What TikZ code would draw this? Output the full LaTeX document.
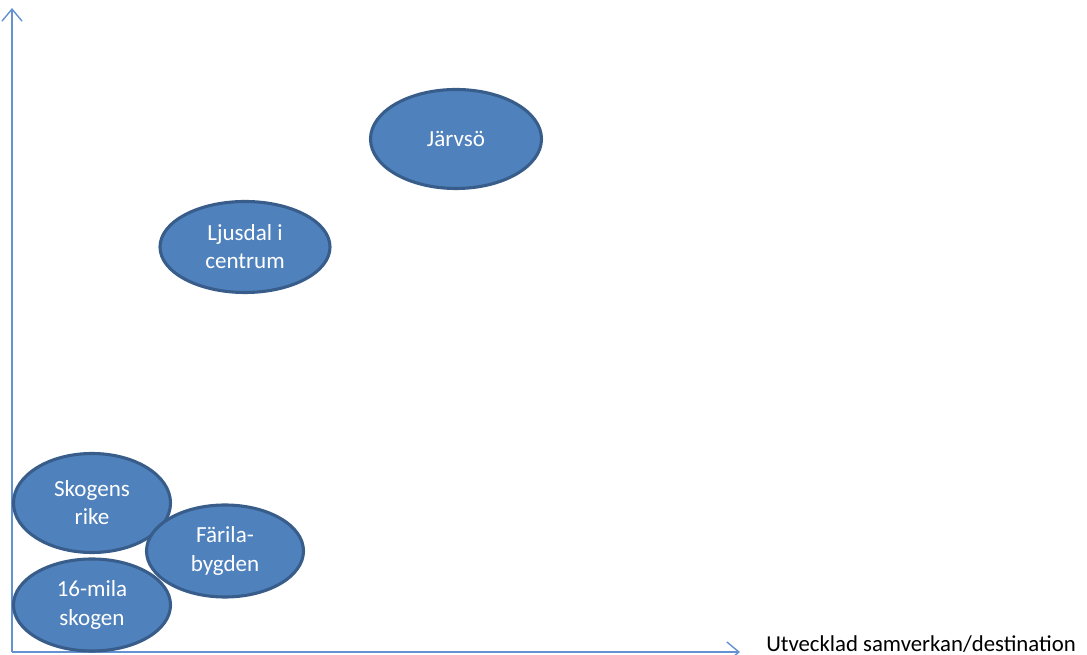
\documentclass[tikz,border=0pt]{standalone}
\usepackage{fontspec}
\setmainfont{Carlito}
\usetikzlibrary{positioning,shapes.geometric,arrows.meta}
\definecolor{bubble_fill}  {RGB} {79,129,189}
\definecolor{bubble_edge}  {RGB} {56,93,138}
\definecolor{axis_blue}    {RGB} {100,146,208}
\tikzset{
  bubble/.style={ellipse,draw=bubble_edge,fill=bubble_fill,line width=2.2pt,text=white,align=center,inner sep=0pt,font=\fontsize{16.4}{20}\selectfont},
  axis/.style={axis_blue,line width=1pt,-{Straight Barb[length=0.3cm,width=0.5cm]}}
}
\begin{document}
\begin{tikzpicture}
\useasboundingbox (0,0) rectangle (27.175,16.375);
\coordinate (origin) at (0.3,0.075);
\coordinate (ytop) at (0.3,16.175);
\coordinate (xend) at (18.5,0.075);
\draw[axis] (origin) -- (ytop);
\draw[axis] (origin) -- (xend);
\node[right=0.65cm of xend,inner sep=0pt,font=\fontsize{16.2}{20}\selectfont,yshift=0.2cm] (xlabel) {Utvecklad samverkan/destination};
\node[bubble,minimum width=4.275cm,minimum height=2.475cm] (jarvso) at (11.4,12.9) {Järvsö};
\node[bubble,minimum width=4.25cm,minimum height=2.275cm] (ljusdal) at (6.125,10.2) {Ljusdal i\\centrum};
\node[bubble,minimum width=3.925cm,minimum height=2.475cm] (skogens) at (2.3,3.8) {Skogens\\rike};
\node[bubble,minimum width=3.925cm,minimum height=2.3cm] (farila) at (5.625,2.6) {Färila-\\bygden};
\node[bubble,minimum width=3.925cm,minimum height=2.3cm] (mila) at (2.3,1.25) {16-mila\\skogen};
\end{tikzpicture}
\end{document}
